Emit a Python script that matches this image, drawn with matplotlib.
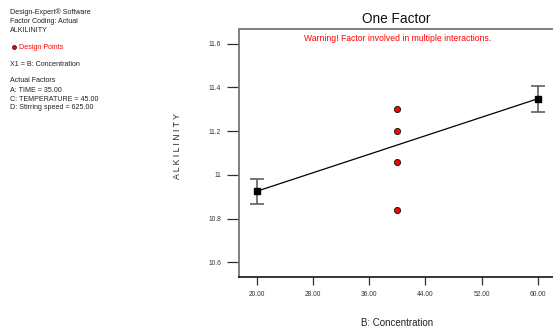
import matplotlib
matplotlib.use("Agg")
import matplotlib.pyplot as plt

plt.rcParams['font.family'] = ['Liberation Sans', 'DejaVu Sans']

# Model prediction at the factor levels with confidence bands
conc_levels = [20.0, 60.0]
predicted = [10.925, 11.348]
ci_low = [10.866, 11.288]
ci_high = [10.983, 11.406]

# Observed design points
design_x = [40.0, 40.0, 40.0, 40.0]
design_y = [11.30, 11.20, 11.06, 10.84]

x_ticks = [20, 28, 36, 44, 52, 60]
x_tick_labels = ["20.00", "28.00", "36.00", "44.00", "52.00", "60.00"]
y_ticks = [10.6, 10.8, 11.0, 11.2, 11.4, 11.6]
y_tick_labels = ["10.6", "10.8", "11", "11.2", "11.4", "11.6"]

W, H = 553, 330
fig = plt.figure(figsize=(W / 100, H / 100), dpi=100)

def px(x0, y0, x1, y1):
    return [x0 / W, 1 - y1 / H, (x1 - x0) / W, (y1 - y0) / H]

ax = fig.add_axes(px(239, 29, 555.5, 277))
ax.set_xlim(17.48, 62.52)
ax.set_ylim(10.533, 11.667)

# Prediction line with error bars
ax.plot(conc_levels, predicted, color='black', lw=0.9, zorder=3)
yerr = [[p - l for p, l in zip(predicted, ci_low)],
        [h - p for p, h in zip(predicted, ci_high)]]
ax.errorbar(conc_levels, predicted, yerr=yerr, fmt='none', ecolor='#606060',
            elinewidth=1.2, capsize=4.8, capthick=1.2, zorder=2)
ax.plot(conc_levels, predicted, ls='none', marker='s', ms=4.6,
        color='black', zorder=4)

# Design points
ax.plot(design_x, design_y, ls='none', marker='o', ms=4.4,
        markerfacecolor='#ff0000', markeredgecolor='#202020',
        markeredgewidth=0.7, zorder=4)

ax.set_xticks(x_ticks)
ax.set_xticklabels(x_tick_labels)
ax.set_yticks(y_ticks)
ax.set_yticklabels(y_tick_labels)
ax.tick_params(axis='x', direction='out', length=6, width=0.9, colors='#303030',
               labelsize=4.8, pad=4)
ax.tick_params(axis='y', direction='out', length=9, width=0.9, colors='#303030',
               labelsize=4.8, pad=4)
for lab in ax.get_xticklabels() + ax.get_yticklabels():
    lab.set_color('#333333')

ax.spines['left'].set_color('#808080')
ax.spines['left'].set_linewidth(1.4)
ax.spines['top'].set_color('#808080')
ax.spines['top'].set_linewidth(1.4)
ax.spines['bottom'].set_color('black')
ax.spines['bottom'].set_linewidth(1.1)
ax.spines['right'].set_visible(False)

ax.text(0.5, 0.96, "Warning! Factor involved in multiple interactions.",
        transform=ax.transAxes, ha='center', va='center', color='#ff0000',
        fontsize=6.2)

fig.text(396 / W, 1 - 19 / H, "One Factor", ha='center', va='center',
         fontsize=9.8, color='#111111')
fig.text(397 / W, 1 - 323 / H, "B: Concentration", ha='center', va='center',
         fontsize=7, color='#222222')
fig.text(178 / W, 1 - 146 / H, "A L K I L I N I T Y", ha='center',
         va='center', rotation=90, fontsize=6.3, color='#222222')

# Header notes
info_fs = 5.1
fig.text(10 / W, 1 - 12.3 / H, "Design-Expert® Software", fontsize=info_fs,
         va='center', color='#222222')
fig.text(10 / W, 1 - 21.3 / H, "Factor Coding: Actual", fontsize=info_fs,
         va='center', color='#222222')
fig.text(10 / W, 1 - 30 / H, "ALKILINITY", fontsize=info_fs,
         va='center', color='#222222')
fig.lines.append(plt.Line2D([13.5 / W], [1 - 47.3 / H], transform=fig.transFigure,
                            marker='o', ms=2.8, markerfacecolor='#ff0000',
                            markeredgecolor='#202020', markeredgewidth=0.6,
                            ls='none'))
fig.text(19 / W, 1 - 47.3 / H, "Design Points", fontsize=info_fs,
         va='center', color='#ff0000')
fig.text(10 / W, 1 - 64.3 / H, "X1 = B: Concentration", fontsize=info_fs,
         va='center', color='#222222')
fig.text(10 / W, 1 - 81 / H, "Actual Factors", fontsize=info_fs,
         va='center', color='#222222')
fig.text(10 / W, 1 - 90 / H, "A: TIME = 35.00", fontsize=info_fs,
         va='center', color='#222222')
fig.text(10 / W, 1 - 99 / H, "C: TEMPERATURE = 45.00", fontsize=info_fs,
         va='center', color='#222222')
fig.text(10 / W, 1 - 107.7 / H, "D: Stirring speed = 625.00", fontsize=info_fs,
         va='center', color='#222222')

fig.savefig("out.png", dpi=100)
